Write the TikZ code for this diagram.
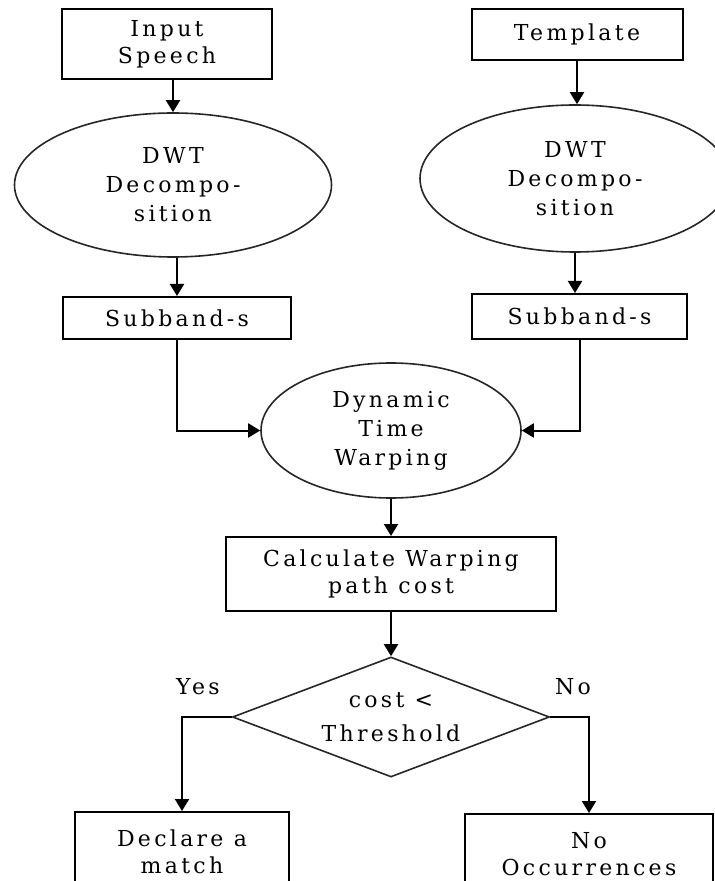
\documentclass[tikz,border=0pt]{standalone}
\usepackage{fontspec}
\newfontfamily\chartfont{DejaVu Serif}[LetterSpace=15]
\usetikzlibrary{arrows.meta,shapes.geometric}
\tikzset{
  >={Triangle[length=6pt,width=7pt]},
  stage/.style={draw=black,line width=1pt,align=center,inner sep=0pt,
    font=\fontsize{11}{13.5}\selectfont\chartfont},
  blob/.style={ellipse,draw=black!85,line width=0.8pt,align=center,inner sep=0pt,
    font=\fontsize{11}{14.5}\selectfont\chartfont},
  choice/.style={diamond,draw=black!85,line width=0.8pt,align=center,inner sep=0pt,
    aspect=2.6,font=\fontsize{11}{17}\selectfont\chartfont},
  link/.style={->,line width=1pt},
  tag/.style={font=\fontsize{11}{12}\selectfont\chartfont},
}
\begin{document}
\begin{tikzpicture}[x=0.5pt,y=-0.5pt]
  \useasboundingbox (0,0) rectangle (715,881);
  % sources
  \node[stage,minimum width=105pt,minimum height=35pt] (speech) at (167,44.5) {Input\\Speech};
  \node[stage,minimum width=105.5pt,minimum height=25.5pt] (tmpl) at (577,34.5) {Template};
  % wavelet stage
  \node[blob,minimum width=158.5pt,minimum height=72pt] (dwtl) at (173,185) {DWT\\Decompo-\\sition};
  \node[blob,minimum width=155pt,minimum height=73.5pt] (dwtr) at (575,178.5) {DWT\\Decompo-\\sition};
  \node[stage,minimum width=114pt,minimum height=21pt] (subl) at (177,318) {Subband-s};
  \node[stage,minimum width=107.5pt,minimum height=22.5pt] (subr) at (579.5,316.5) {Subband-s};
  % matching
  \node[blob,minimum width=130pt,minimum height=67.5pt] (dtw) at (391,430.5) {Dynamic\\Time\\Warping};
  \node[stage,minimum width=165pt,minimum height=37pt] (cost) at (391,574) {Calculate Warping\\path cost};
  \node[choice,minimum width=158.5pt,minimum height=60pt] (check) at (391,717) {cost <\\Threshold};
  \node[stage,minimum width=107pt,minimum height=40pt] (match) at (182,852) {Declare a\\match};
  \node[stage,minimum width=124pt,minimum height=40pt] (none) at (589,854) {No\\Occurrences};
  \node[tag] (yes) at (198,687) {Yes};
  \node[tag] (no) at (573,687) {No};
  % connectors
  \draw[link] (speech.south -| dwtl.north) -- (dwtl.north);
  \draw[link] (tmpl.south) -- (tmpl.south |- dwtr.north);
  \draw[link] (dwtl.south -| subl.north) -- (subl.north);
  \draw[link] (dwtr.south) -- (dwtr.south |- subr.north);
  \draw[link] (subl.south) |- (dtw.west);
  \draw[link] (subr.south) |- (dtw.east);
  \draw[link] (dtw.south) -- (cost.north);
  \draw[link] (cost.south) -- (check.north);
  \draw[link] (check.west) -| (match.north);
  \draw[link] (check.east) -| (none.north);
\end{tikzpicture}
\end{document}
